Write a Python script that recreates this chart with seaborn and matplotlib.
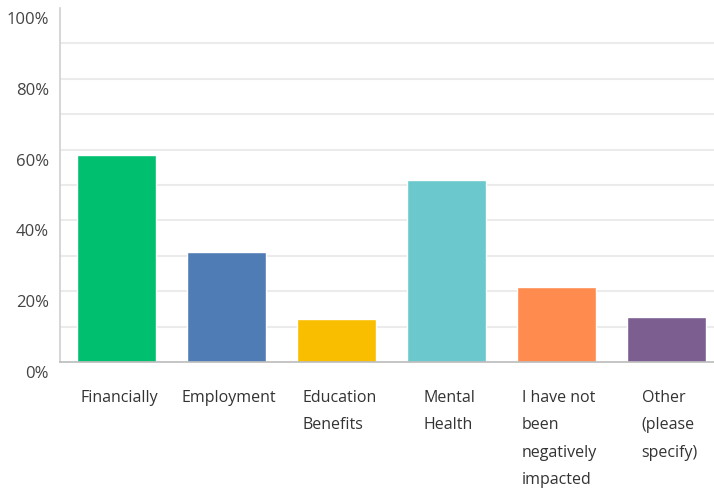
import matplotlib
matplotlib.use("Agg")
import matplotlib.pyplot as plt
import matplotlib.transforms as mtransforms
import seaborn as sns
import pandas as pd

categories = ["Financially", "Employment", "Education\nBenefits", "Mental\nHealth",
              "I have not\nbeen\nnegatively\nimpacted", "Other\n(please\nspecify)"]
percent = [58.4, 31.2, 12.2, 51.3, 21.2, 12.6]
colors = ["#00BF6F", "#507CB6", "#F9BE00", "#6BC8CD", "#FF8B4F", "#7D5E90"]

df = pd.DataFrame({"answer": categories, "pct": percent})

sns.set_style("white")
plt.rcParams["font.family"] = ["Open Sans", "DejaVu Sans"]

fig = plt.figure(figsize=(7.14, 4.95), dpi=100)
ax = fig.add_axes([60 / 714, 133 / 495, 654 / 714, 354 / 495])

sns.barplot(data=df, x="answer", y="pct", hue="answer", palette=colors,
            width=0.72, legend=False, ax=ax, saturation=1)

ax.set_ylim(0, 100)
ax.set_xlim(-0.51, 5.43)
ax.set_yticks([0, 20, 40, 60, 80, 100])
ax.set_yticklabels(["0%", "20%", "40%", "60%", "80%", "100%"], fontsize=12)
ax.yaxis.remove_overlapping_locs = False
ax.set_yticks(range(10, 100, 10), minor=True)
ax.grid(which="minor", axis="y", color="#ebebeb", linewidth=1.5)
ax.set_axisbelow(True)
ax.tick_params(axis="y", which="both", length=0, pad=8, labelcolor="#444444")
ax.tick_params(axis="x", length=0, pad=20, labelsize=11.5, labelcolor="#333333")
ax.set_xlabel("")
ax.set_ylabel("")

# shift y tick labels a bit below their gridlines
off = mtransforms.ScaledTranslation(0, -10 / 100, fig.dpi_scale_trans)
for lab in ax.get_yticklabels():
    lab.set_transform(lab.get_transform() + off)
xoff = mtransforms.ScaledTranslation(3 / 100, 0, fig.dpi_scale_trans)
for lab in ax.get_xticklabels():
    lab.set_transform(lab.get_transform() + xoff)
    lab.set_verticalalignment("top")
    lab.set_multialignment("left")
    lab.set_linespacing(1.95)

for side in ["top", "right"]:
    ax.spines[side].set_visible(False)
ax.spines["left"].set_color("#d0d0d0")
ax.spines["bottom"].set_color("#bbbbbb")
ax.spines["left"].set_linewidth(1.2)
ax.spines["bottom"].set_linewidth(1.2)

fig.savefig("out.png", dpi=100)
